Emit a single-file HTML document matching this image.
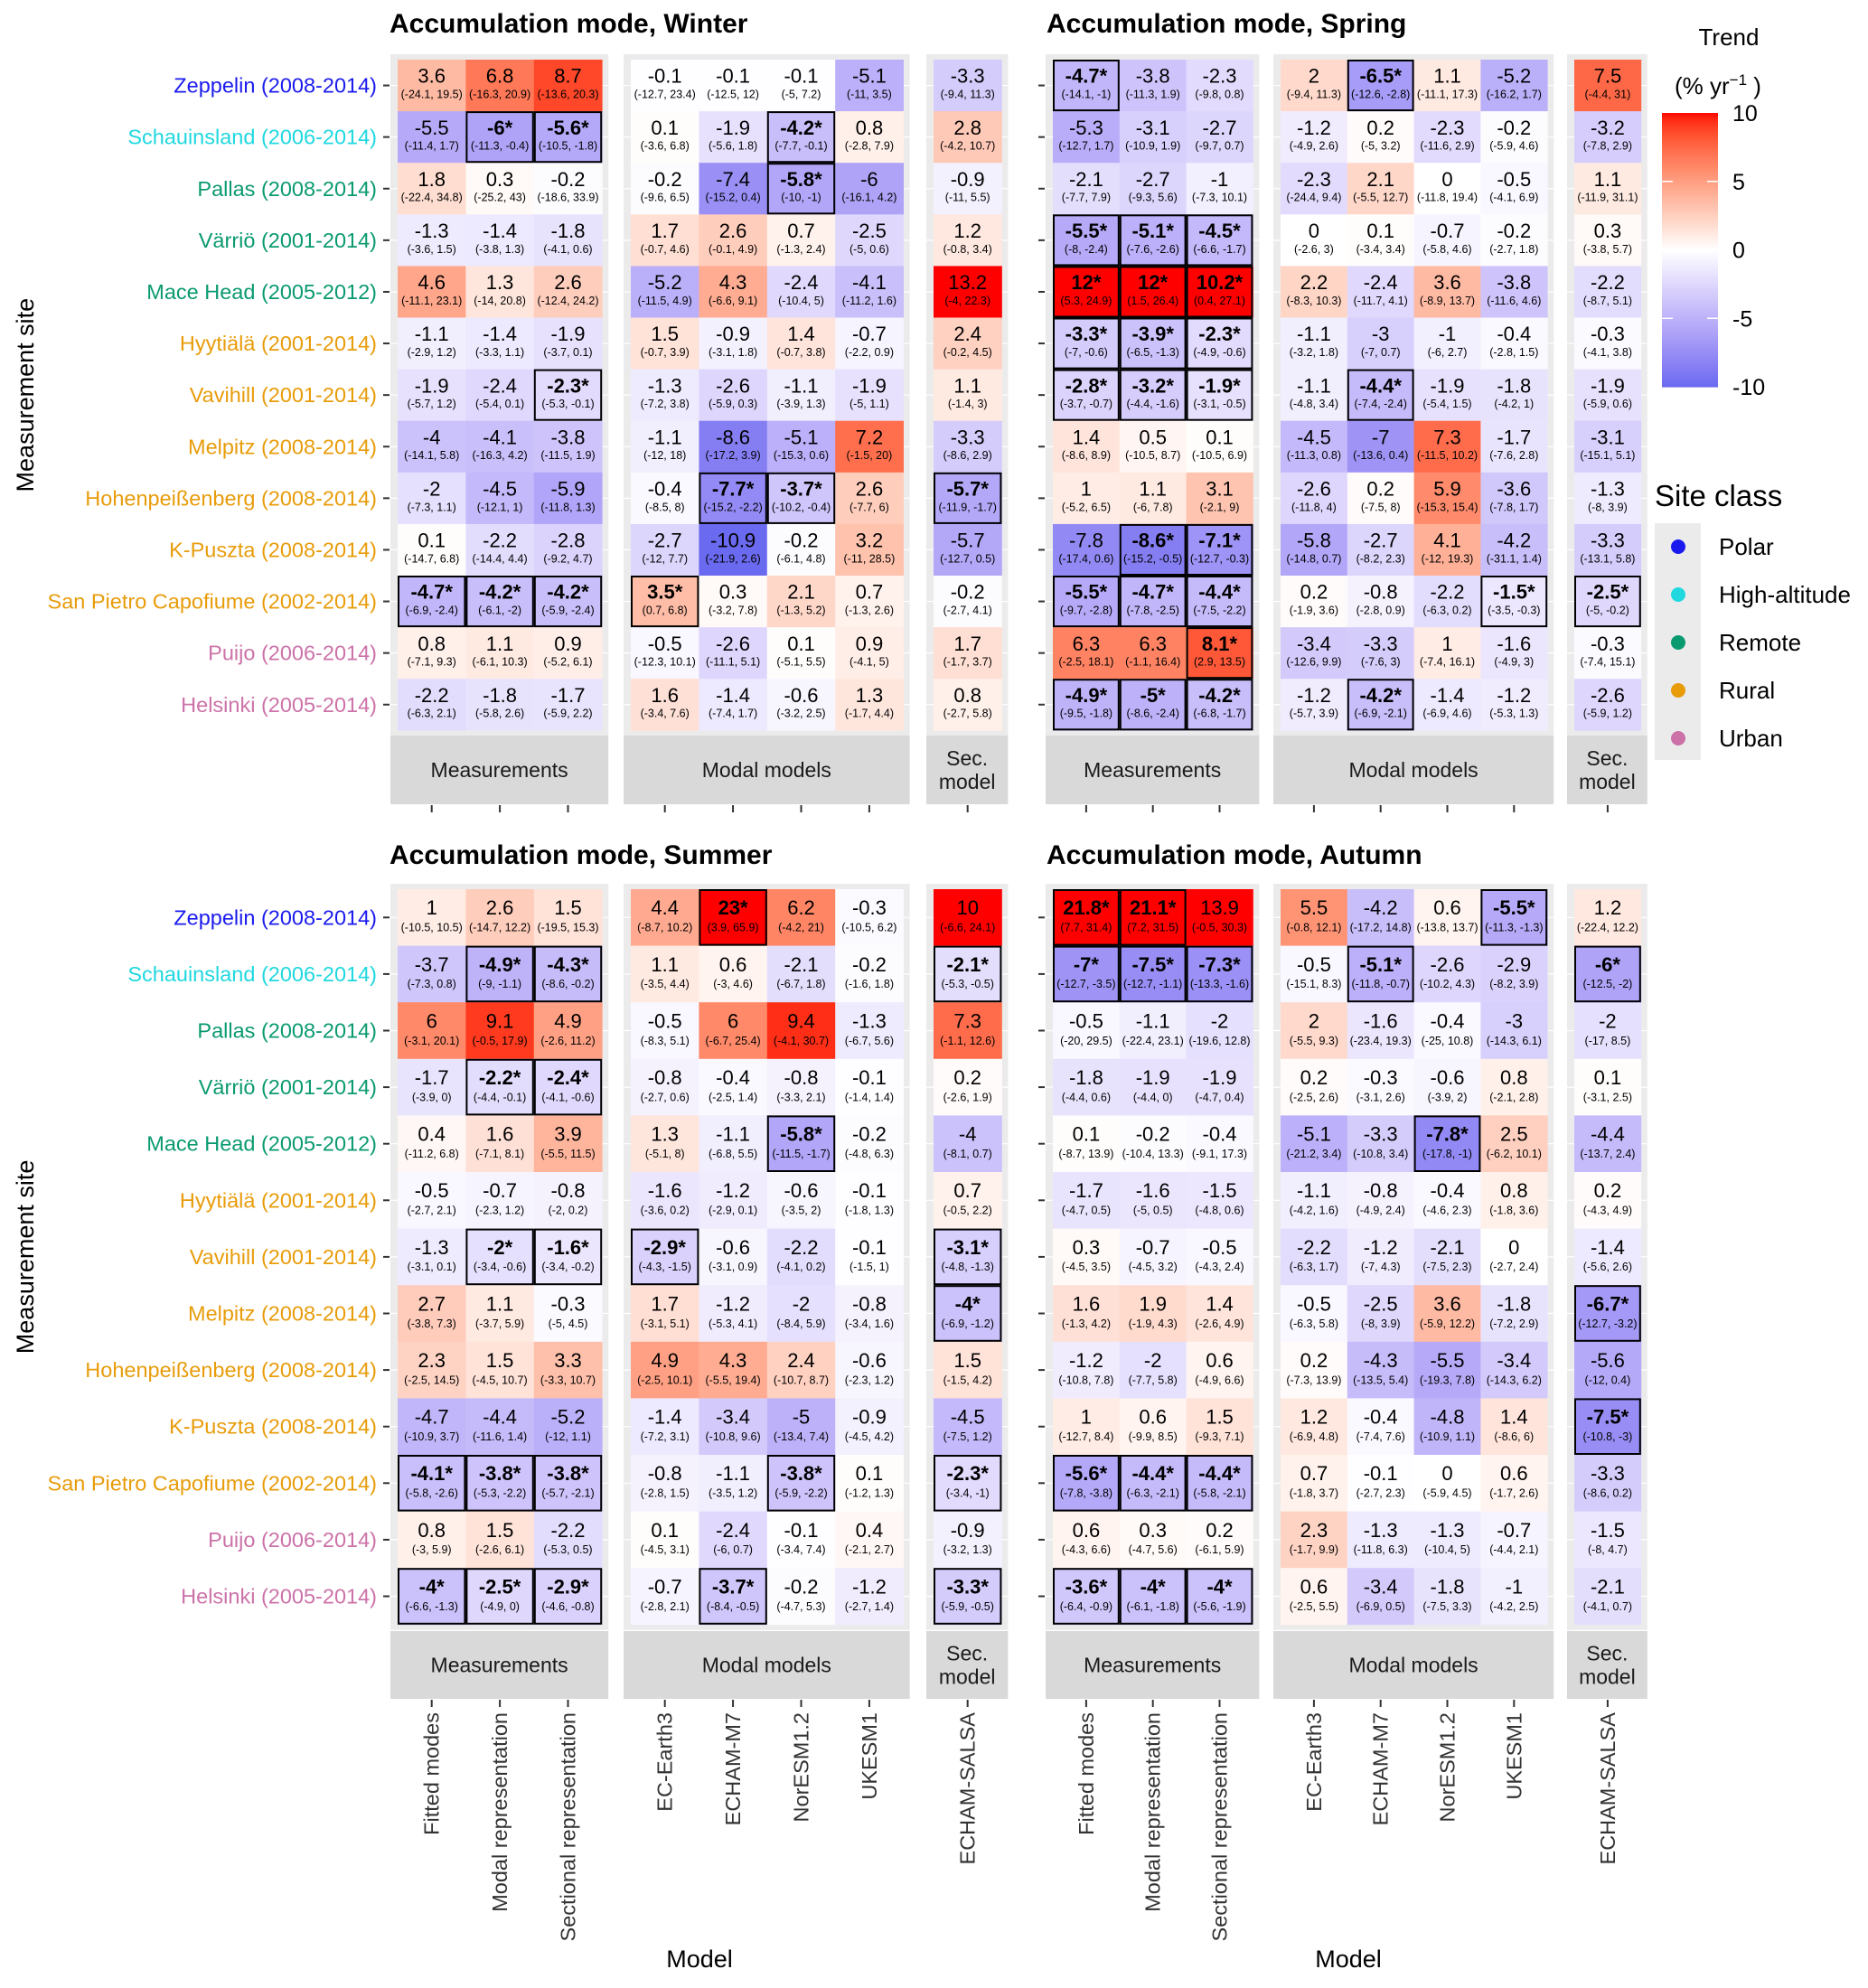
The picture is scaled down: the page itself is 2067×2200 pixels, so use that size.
<!DOCTYPE html>
<html><head><meta charset="utf-8">
<style>
html,body{margin:0;padding:0;background:#fff;}
svg text{font-family:"Liberation Sans",Arial,sans-serif;}
</style></head>
<body>
<svg id="chart" xmlns="http://www.w3.org/2000/svg" width="2067" height="2195" viewBox="0 0 2067 2195"></svg>
<script>
// ---------- data ----------
const sites = ["Zeppelin (2008-2014)","Schauinsland (2006-2014)","Pallas (2008-2014)","Värriö (2001-2014)","Mace Head (2005-2012)","Hyytiälä (2001-2014)","Vavihill (2001-2014)","Melpitz (2008-2014)","Hohenpeißenberg (2008-2014)","K-Puszta (2008-2014)","San Pietro Capofiume (2002-2014)","Puijo (2006-2014)","Helsinki (2005-2014)"];
const siteClass = ["Polar","High-altitude","Remote","Remote","Remote","Rural","Rural","Rural","Rural","Rural","Rural","Urban","Urban"];
const classNames = ["Polar","High-altitude","Remote","Rural","Urban"];
const classColors = ["#1a1aee","#1fd8e0","#0a9a70","#e89c0a","#cc72a8"];
const columns = ["Fitted modes","Modal representation","Sectional representation","EC-Earth3","ECHAM-M7","NorESM1.2","UKESM1","ECHAM-SALSA"];
const colorTicks = [10,5,0,-5,-10];

const winterValues = [
["3.6","6.8","8.7","-0.1","-0.1","-0.1","-5.1","-3.3"],
["-5.5","-6*","-5.6*","0.1","-1.9","-4.2*","0.8","2.8"],
["1.8","0.3","-0.2","-0.2","-7.4","-5.8*","-6","-0.9"],
["-1.3","-1.4","-1.8","1.7","2.6","0.7","-2.5","1.2"],
["4.6","1.3","2.6","-5.2","4.3","-2.4","-4.1","13.2"],
["-1.1","-1.4","-1.9","1.5","-0.9","1.4","-0.7","2.4"],
["-1.9","-2.4","-2.3*","-1.3","-2.6","-1.1","-1.9","1.1"],
["-4","-4.1","-3.8","-1.1","-8.6","-5.1","7.2","-3.3"],
["-2","-4.5","-5.9","-0.4","-7.7*","-3.7*","2.6","-5.7*"],
["0.1","-2.2","-2.8","-2.7","-10.9","-0.2","3.2","-5.7"],
["-4.7*","-4.2*","-4.2*","3.5*","0.3","2.1","0.7","-0.2"],
["0.8","1.1","0.9","-0.5","-2.6","0.1","0.9","1.7"],
["-2.2","-1.8","-1.7","1.6","-1.4","-0.6","1.3","0.8"]];
const winterCI = [
["-24.1, 19.5","-16.3, 20.9","-13.6, 20.3","-12.7, 23.4","-12.5, 12","-5, 7.2","-11, 3.5","-9.4, 11.3"],
["-11.4, 1.7","-11.3, -0.4","-10.5, -1.8","-3.6, 6.8","-5.6, 1.8","-7.7, -0.1","-2.8, 7.9","-4.2, 10.7"],
["-22.4, 34.8","-25.2, 43","-18.6, 33.9","-9.6, 6.5","-15.2, 0.4","-10, -1","-16.1, 4.2","-11, 5.5"],
["-3.6, 1.5","-3.8, 1.3","-4.1, 0.6","-0.7, 4.6","-0.1, 4.9","-1.3, 2.4","-5, 0.6","-0.8, 3.4"],
["-11.1, 23.1","-14, 20.8","-12.4, 24.2","-11.5, 4.9","-6.6, 9.1","-10.4, 5","-11.2, 1.6","-4, 22.3"],
["-2.9, 1.2","-3.3, 1.1","-3.7, 0.1","-0.7, 3.9","-3.1, 1.8","-0.7, 3.8","-2.2, 0.9","-0.2, 4.5"],
["-5.7, 1.2","-5.4, 0.1","-5.3, -0.1","-7.2, 3.8","-5.9, 0.3","-3.9, 1.3","-5, 1.1","-1.4, 3"],
["-14.1, 5.8","-16.3, 4.2","-11.5, 1.9","-12, 18","-17.2, 3.9","-15.3, 0.6","-1.5, 20","-8.6, 2.9"],
["-7.3, 1.1","-12.1, 1","-11.8, 1.3","-8.5, 8","-15.2, -2.2","-10.2, -0.4","-7.7, 6","-11.9, -1.7"],
["-14.7, 6.8","-14.4, 4.4","-9.2, 4.7","-12, 7.7","-21.9, 2.6","-6.1, 4.8","-11, 28.5","-12.7, 0.5"],
["-6.9, -2.4","-6.1, -2","-5.9, -2.4","0.7, 6.8","-3.2, 7.8","-1.3, 5.2","-1.3, 2.6","-2.7, 4.1"],
["-7.1, 9.3","-6.1, 10.3","-5.2, 6.1","-12.3, 10.1","-11.1, 5.1","-5.1, 5.5","-4.1, 5","-1.7, 3.7"],
["-6.3, 2.1","-5.8, 2.6","-5.9, 2.2","-3.4, 7.6","-7.4, 1.7","-3.2, 2.5","-1.7, 4.4","-2.7, 5.8"]];

const springValues = [
["-4.7*","-3.8","-2.3","2","-6.5*","1.1","-5.2","7.5"],
["-5.3","-3.1","-2.7","-1.2","0.2","-2.3","-0.2","-3.2"],
["-2.1","-2.7","-1","-2.3","2.1","0","-0.5","1.1"],
["-5.5*","-5.1*","-4.5*","0","0.1","-0.7","-0.2","0.3"],
["12*","12*","10.2*","2.2","-2.4","3.6","-3.8","-2.2"],
["-3.3*","-3.9*","-2.3*","-1.1","-3","-1","-0.4","-0.3"],
["-2.8*","-3.2*","-1.9*","-1.1","-4.4*","-1.9","-1.8","-1.9"],
["1.4","0.5","0.1","-4.5","-7","7.3","-1.7","-3.1"],
["1","1.1","3.1","-2.6","0.2","5.9","-3.6","-1.3"],
["-7.8","-8.6*","-7.1*","-5.8","-2.7","4.1","-4.2","-3.3"],
["-5.5*","-4.7*","-4.4*","0.2","-0.8","-2.2","-1.5*","-2.5*"],
["6.3","6.3","8.1*","-3.4","-3.3","1","-1.6","-0.3"],
["-4.9*","-5*","-4.2*","-1.2","-4.2*","-1.4","-1.2","-2.6"]];
const springCI = [
["-14.1, -1","-11.3, 1.9","-9.8, 0.8","-9.4, 11.3","-12.6, -2.8","-11.1, 17.3","-16.2, 1.7","-4.4, 31"],
["-12.7, 1.7","-10.9, 1.9","-9.7, 0.7","-4.9, 2.6","-5, 3.2","-11.6, 2.9","-5.9, 4.6","-7.8, 2.9"],
["-7.7, 7.9","-9.3, 5.6","-7.3, 10.1","-24.4, 9.4","-5.5, 12.7","-11.8, 19.4","-4.1, 6.9","-11.9, 31.1"],
["-8, -2.4","-7.6, -2.6","-6.6, -1.7","-2.6, 3","-3.4, 3.4","-5.8, 4.6","-2.7, 1.8","-3.8, 5.7"],
["5.3, 24.9","1.5, 26.4","0.4, 27.1","-8.3, 10.3","-11.7, 4.1","-8.9, 13.7","-11.6, 4.6","-8.7, 5.1"],
["-7, -0.6","-6.5, -1.3","-4.9, -0.6","-3.2, 1.8","-7, 0.7","-6, 2.7","-2.8, 1.5","-4.1, 3.8"],
["-3.7, -0.7","-4.4, -1.6","-3.1, -0.5","-4.8, 3.4","-7.4, -2.4","-5.4, 1.5","-4.2, 1","-5.9, 0.6"],
["-8.6, 8.9","-10.5, 8.7","-10.5, 6.9","-11.3, 0.8","-13.6, 0.4","-11.5, 10.2","-7.6, 2.8","-15.1, 5.1"],
["-5.2, 6.5","-6, 7.8","-2.1, 9","-11.8, 4","-7.5, 8","-15.3, 15.4","-7.8, 1.7","-8, 3.9"],
["-17.4, 0.6","-15.2, -0.5","-12.7, -0.3","-14.8, 0.7","-8.2, 2.3","-12, 19.3","-31.1, 1.4","-13.1, 5.8"],
["-9.7, -2.8","-7.8, -2.5","-7.5, -2.2","-1.9, 3.6","-2.8, 0.9","-6.3, 0.2","-3.5, -0.3","-5, -0.2"],
["-2.5, 18.1","-1.1, 16.4","2.9, 13.5","-12.6, 9.9","-7.6, 3","-7.4, 16.1","-4.9, 3","-7.4, 15.1"],
["-9.5, -1.8","-8.6, -2.4","-6.8, -1.7","-5.7, 3.9","-6.9, -2.1","-6.9, 4.6","-5.3, 1.3","-5.9, 1.2"]];

const summerValues = [
["1","2.6","1.5","4.4","23*","6.2","-0.3","10"],
["-3.7","-4.9*","-4.3*","1.1","0.6","-2.1","-0.2","-2.1*"],
["6","9.1","4.9","-0.5","6","9.4","-1.3","7.3"],
["-1.7","-2.2*","-2.4*","-0.8","-0.4","-0.8","-0.1","0.2"],
["0.4","1.6","3.9","1.3","-1.1","-5.8*","-0.2","-4"],
["-0.5","-0.7","-0.8","-1.6","-1.2","-0.6","-0.1","0.7"],
["-1.3","-2*","-1.6*","-2.9*","-0.6","-2.2","-0.1","-3.1*"],
["2.7","1.1","-0.3","1.7","-1.2","-2","-0.8","-4*"],
["2.3","1.5","3.3","4.9","4.3","2.4","-0.6","1.5"],
["-4.7","-4.4","-5.2","-1.4","-3.4","-5","-0.9","-4.5"],
["-4.1*","-3.8*","-3.8*","-0.8","-1.1","-3.8*","0.1","-2.3*"],
["0.8","1.5","-2.2","0.1","-2.4","-0.1","0.4","-0.9"],
["-4*","-2.5*","-2.9*","-0.7","-3.7*","-0.2","-1.2","-3.3*"]];
const summerCI = [
["-10.5, 10.5","-14.7, 12.2","-19.5, 15.3","-8.7, 10.2","3.9, 65.9","-4.2, 21","-10.5, 6.2","-6.6, 24.1"],
["-7.3, 0.8","-9, -1.1","-8.6, -0.2","-3.5, 4.4","-3, 4.6","-6.7, 1.8","-1.6, 1.8","-5.3, -0.5"],
["-3.1, 20.1","-0.5, 17.9","-2.6, 11.2","-8.3, 5.1","-6.7, 25.4","-4.1, 30.7","-6.7, 5.6","-1.1, 12.6"],
["-3.9, 0","-4.4, -0.1","-4.1, -0.6","-2.7, 0.6","-2.5, 1.4","-3.3, 2.1","-1.4, 1.4","-2.6, 1.9"],
["-11.2, 6.8","-7.1, 8.1","-5.5, 11.5","-5.1, 8","-6.8, 5.5","-11.5, -1.7","-4.8, 6.3","-8.1, 0.7"],
["-2.7, 2.1","-2.3, 1.2","-2, 0.2","-3.6, 0.2","-2.9, 0.1","-3.5, 2","-1.8, 1.3","-0.5, 2.2"],
["-3.1, 0.1","-3.4, -0.6","-3.4, -0.2","-4.3, -1.5","-3.1, 0.9","-4.1, 0.2","-1.5, 1","-4.8, -1.3"],
["-3.8, 7.3","-3.7, 5.9","-5, 4.5","-3.1, 5.1","-5.3, 4.1","-8.4, 5.9","-3.4, 1.6","-6.9, -1.2"],
["-2.5, 14.5","-4.5, 10.7","-3.3, 10.7","-2.5, 10.1","-5.5, 19.4","-10.7, 8.7","-2.3, 1.2","-1.5, 4.2"],
["-10.9, 3.7","-11.6, 1.4","-12, 1.1","-7.2, 3.1","-10.8, 9.6","-13.4, 7.4","-4.5, 4.2","-7.5, 1.2"],
["-5.8, -2.6","-5.3, -2.2","-5.7, -2.1","-2.8, 1.5","-3.5, 1.2","-5.9, -2.2","-1.2, 1.3","-3.4, -1"],
["-3, 5.9","-2.6, 6.1","-5.3, 0.5","-4.5, 3.1","-6, 0.7","-3.4, 7.4","-2.1, 2.7","-3.2, 1.3"],
["-6.6, -1.3","-4.9, 0","-4.6, -0.8","-2.8, 2.1","-8.4, -0.5","-4.7, 5.3","-2.7, 1.4","-5.9, -0.5"]];

const autumnValues = [
["21.8*","21.1*","13.9","5.5","-4.2","0.6","-5.5*","1.2"],
["-7*","-7.5*","-7.3*","-0.5","-5.1*","-2.6","-2.9","-6*"],
["-0.5","-1.1","-2","2","-1.6","-0.4","-3","-2"],
["-1.8","-1.9","-1.9","0.2","-0.3","-0.6","0.8","0.1"],
["0.1","-0.2","-0.4","-5.1","-3.3","-7.8*","2.5","-4.4"],
["-1.7","-1.6","-1.5","-1.1","-0.8","-0.4","0.8","0.2"],
["0.3","-0.7","-0.5","-2.2","-1.2","-2.1","0","-1.4"],
["1.6","1.9","1.4","-0.5","-2.5","3.6","-1.8","-6.7*"],
["-1.2","-2","0.6","0.2","-4.3","-5.5","-3.4","-5.6"],
["1","0.6","1.5","1.2","-0.4","-4.8","1.4","-7.5*"],
["-5.6*","-4.4*","-4.4*","0.7","-0.1","0","0.6","-3.3"],
["0.6","0.3","0.2","2.3","-1.3","-1.3","-0.7","-1.5"],
["-3.6*","-4*","-4*","0.6","-3.4","-1.8","-1","-2.1"]];
const autumnCI = [
["7.7, 31.4","7.2, 31.5","-0.5, 30.3","-0.8, 12.1","-17.2, 14.8","-13.8, 13.7","-11.3, -1.3","-22.4, 12.2"],
["-12.7, -3.5","-12.7, -1.1","-13.3, -1.6","-15.1, 8.3","-11.8, -0.7","-10.2, 4.3","-8.2, 3.9","-12.5, -2"],
["-20, 29.5","-22.4, 23.1","-19.6, 12.8","-5.5, 9.3","-23.4, 19.3","-25, 10.8","-14.3, 6.1","-17, 8.5"],
["-4.4, 0.6","-4.4, 0","-4.7, 0.4","-2.5, 2.6","-3.1, 2.6","-3.9, 2","-2.1, 2.8","-3.1, 2.5"],
["-8.7, 13.9","-10.4, 13.3","-9.1, 17.3","-21.2, 3.4","-10.8, 3.4","-17.8, -1","-6.2, 10.1","-13.7, 2.4"],
["-4.7, 0.5","-5, 0.5","-4.8, 0.6","-4.2, 1.6","-4.9, 2.4","-4.6, 2.3","-1.8, 3.6","-4.3, 4.9"],
["-4.5, 3.5","-4.5, 3.2","-4.3, 2.4","-6.3, 1.7","-7, 4.3","-7.5, 2.3","-2.7, 2.4","-5.6, 2.6"],
["-1.3, 4.2","-1.9, 4.3","-2.6, 4.9","-6.3, 5.8","-8, 3.9","-5.9, 12.2","-7.2, 2.9","-12.7, -3.2"],
["-10.8, 7.8","-7.7, 5.8","-4.9, 6.6","-7.3, 13.9","-13.5, 5.4","-19.3, 7.8","-14.3, 6.2","-12, 0.4"],
["-12.7, 8.4","-9.9, 8.5","-9.3, 7.1","-6.9, 4.8","-7.4, 7.6","-10.9, 1.1","-8.6, 6","-10.8, -3"],
["-7.8, -3.8","-6.3, -2.1","-5.8, -2.1","-1.8, 3.7","-2.7, 2.3","-5.9, 4.5","-1.7, 2.6","-8.6, 0.2"],
["-4.3, 6.6","-4.7, 5.6","-6.1, 5.9","-1.7, 9.9","-11.8, 6.3","-10.4, 5","-4.4, 2.1","-8, 4.7"],
["-6.4, -0.9","-6.1, -1.8","-5.6, -1.9","-2.5, 5.5","-6.9, 0.5","-7.5, 3.3","-4.2, 2.5","-4.1, 0.7"]];

// ---------- helpers ----------
const NS = "http://www.w3.org/2000/svg";
const svg = document.getElementById('chart');
function mk(tag, attrs, parent){
  const e = document.createElementNS(NS, tag);
  for (const k in attrs) e.setAttribute(k, attrs[k]);
  (parent||svg).appendChild(e);
  return e;
}
function txt(str, attrs, parent){ const t = mk('text', attrs, parent); t.textContent = str; return t; }

function srgb2lin(c){ c/=255; return c<=0.04045? c/12.92 : Math.pow((c+0.055)/1.055,2.4); }
function lin2srgb(c){ c = c<=0.0031308? 12.92*c : 1.055*Math.pow(c,1/2.4)-0.055; return Math.max(0,Math.min(255,Math.round(c*255))); }
function toLab(hex){
  const r=srgb2lin(parseInt(hex.substr(1,2),16)), g=srgb2lin(parseInt(hex.substr(3,2),16)), b=srgb2lin(parseInt(hex.substr(5,2),16));
  let X=(0.4124*r+0.3576*g+0.1805*b)/0.95047, Y=0.2126*r+0.7152*g+0.0722*b, Z=(0.0193*r+0.1192*g+0.9505*b)/1.08883;
  const f=t=> t>0.008856? Math.cbrt(t) : 7.787*t+16/116;
  const fx=f(X), fy=f(Y), fz=f(Z);
  return [116*fy-16, 500*(fx-fy), 200*(fy-fz)];
}
function fromLab(L,a,b){
  const fy=(L+16)/116, fx=fy+a/500, fz=fy-b/200;
  const fi=t=> t*t*t>0.008856? t*t*t : (t-16/116)/7.787;
  const X=fi(fx)*0.95047, Y=fi(fy), Z=fi(fz)*1.08883;
  const r= 3.2406*X-1.5372*Y-0.4986*Z, g=-0.9689*X+1.8758*Y+0.0415*Z, bb=0.0557*X-0.2040*Y+1.0570*Z;
  return 'rgb('+lin2srgb(r)+','+lin2srgb(g)+','+lin2srgb(bb)+')';
}
const LW = toLab('#ffffff'), LR = toLab('#ff0000'), LB = toLab('#6a6af0');
function fillColor(v){
  let t = Math.max(-1, Math.min(1, v/10));
  const end = t>=0? LR : LB; t=Math.abs(t);
  return fromLab(LW[0]+(end[0]-LW[0])*t, LW[1]+(end[1]-LW[1])*t, LW[2]+(end[2]-LW[2])*t);
}

// ---------- layout ----------
const sides = {
  left:  {groups:[440,698,1033], w:75.4, title:431, yTick:424},
  right: {groups:[1165,1417,1742], w:73.8, title:1158, yTick:1149}
};
const groupCols = [[0,1,2],[3,4,5,6],[7]];
const groupLabels = [["Measurements"],["Modal models"],["Sec.","model"]];
const rows = {
  top:    {y0:66,  h:57.1, titleY:36,  strip:[814,890]},
  bottom: {y0:984, h:62.6, titleY:956, strip:[1805,1880]}
};
const panels = [
  {name:"winter", title:"Accumulation mode, Winter", side:"left", row:"top", vals:winterValues, ci:winterCI},
  {name:"spring", title:"Accumulation mode, Spring", side:"right", row:"top", vals:springValues, ci:springCI},
  {name:"summer", title:"Accumulation mode, Summer", side:"left", row:"bottom", vals:summerValues, ci:summerCI},
  {name:"autumn", title:"Accumulation mode, Autumn", side:"right", row:"bottom", vals:autumnValues, ci:autumnCI}
];
function colX(side, c){
  const S = sides[side];
  for (let g=0; g<3; g++){ const i = groupCols[g].indexOf(c); if (i>=0) return S.groups[g] + i*S.w; }
}

panels.forEach(P=>{
  const S = sides[P.side], R = rows[P.row];
  const G = mk('g', {});
  
  
  const yEnd = R.y0 + R.h*sites.length;
  const t = txt(P.title, {x:S.title, y:R.titleY, 'font-size':30, 'font-weight':'bold', fill:'#000'}, G);
  
  
  for (let g=0; g<3; g++){
    const x0 = S.groups[g] - 8, x1 = S.groups[g] + groupCols[g].length*S.w + 7;
    const bg = mk('rect', {x:x0, y:R.y0-6, width:x1-x0, height:yEnd-R.y0+12, fill:'#ebebeb'}, G);
    
    
    for (let r=0;r<sites.length;r++){
      const yc = R.y0 + R.h*(r+0.5);
      mk('line',{x1:x0,x2:x1,y1:yc,y2:yc,stroke:'#fff','stroke-width':1.2},G);
    }
    const st = mk('rect', {x:x0, y:R.strip[0], width:x1-x0, height:R.strip[1]-R.strip[0], fill:'#d9d9d9'}, G);
    
    
    const cx = (x0+x1)/2, cy = (R.strip[0]+R.strip[1])/2;
    const lines = groupLabels[g];
    lines.forEach((ln,i)=>{
      const tt = txt(ln, {x:cx, y:cy+8+(i-(lines.length-1)/2)*26, 'font-size':23, 'text-anchor':'middle', fill:'#1a1a1a'}, G);
      
      
    });
    groupCols[g].forEach(c=>{
      const xc = colX(P.side,c) + S.w/2;
      mk('line',{x1:xc,x2:xc,y1:R.strip[1]+1,y2:R.strip[1]+9,stroke:'#333','stroke-width':2},G);
    });
  }
  const borders = [];
  for (let r=0; r<sites.length; r++){
    for (let c=0; c<columns.length; c++){
      const v = P.vals[r][c];
      const sig = v.indexOf('*')>=0;
      const x = colX(P.side,c), y = R.y0 + r*R.h;
      const rect = mk('rect', {x:x, y:y, width:S.w+0.4, height:R.h+0.4, fill:fillColor(parseFloat(v))}, G);
      
      
      if (sig) borders.push([x,y]);
      const tv = txt(v, {x:x+S.w/2, y:y+R.h*0.45, 'font-size':22, 'text-anchor':'middle', 'font-weight':sig?'bold':'normal', fill:'#000'}, G);
      
      
      const tc = txt('('+P.ci[r][c]+')', {x:x+S.w/2, y:y+R.h*0.745, 'font-size':12.5, 'text-anchor':'middle', fill:'#000'}, G);
      
      
    }
  }
  borders.forEach(([x,y])=>{
    const b = mk('rect',{x:x+1, y:y+1, width:S.w-2, height:R.h-2, fill:'none', stroke:'#000','stroke-width':2}, G);
    
    
  });
  for (let r=0; r<sites.length; r++){
    const yc = R.y0 + R.h*(r+0.5);
    mk('line',{x1:S.yTick,x2:S.yTick+7,y1:yc,y2:yc,stroke:'#333','stroke-width':2},G);
    if (P.side==='left'){
      const col = classColors[classNames.indexOf(siteClass[r])];
      const lb = txt(sites[r], {x:417, y:yc+8, 'font-size':23.5, 'text-anchor':'end', fill:col}, G);
      
      
    }
  }
  if (P.side==='left'){
    const yc = (R.y0+yEnd)/2;
    const yt = txt('Measurement site', {x:37, y:yc, 'font-size':27, 'text-anchor':'middle', transform:'rotate(-90 37 '+yc+')', fill:'#000'}, G);
    
    
  }
  if (P.row==='bottom'){
    for (let c=0;c<columns.length;c++){
      const xc = colX(P.side,c)+S.w/2 + 8;
      const xl = txt(columns[c], {x:xc, y:1895, 'font-size':23.5, 'text-anchor':'end', transform:'rotate(-90 '+xc+' 1895)', fill:'#333'}, G);
      
      
    }
    const mx = P.side==='left'? 774 : 1492;
    const xt = txt('Model', {x:mx, y:2177, 'font-size':27, 'text-anchor':'middle', fill:'#000'}, G);
    
    
  }
});

// ---------- colour legend ----------
const LG = mk('g',{});


const lt = txt('Trend', {x:1913, y:50, 'font-size':26, 'text-anchor':'middle', fill:'#000'}, LG);


const lu = mk('text', {x:1853, y:104, 'font-size':26, fill:'#000'}, LG);
lu.innerHTML = '(% yr<tspan dy="-10" font-size="17">−1</tspan><tspan dy="10"> )</tspan>';


const cbTop=125, cbBot=428, cbX=1839, cbW=62;
const cbScale = v => cbTop + (10 - v)/20*(cbBot-cbTop);
for (let i=0;i<120;i++){
  const v0 = 10 - i*20/120, v1 = 10-(i+1)*20/120;
  mk('rect',{x:cbX, y:cbScale(v0), width:cbW, height:cbScale(v1)-cbScale(v0)+0.6, fill:fillColor((v0+v1)/2)}, LG);
}
colorTicks.forEach(v=>{
  const y = cbScale(v);
  if (Math.abs(v)<10){
    mk('line',{x1:cbX,x2:cbX+12,y1:y,y2:y,stroke:'#fff','stroke-width':1.5},LG);
    mk('line',{x1:cbX+cbW-12,x2:cbX+cbW,y1:y,y2:y,stroke:'#fff','stroke-width':1.5},LG);
  }
  const tl = txt(String(v), {x:1917, y:y+9, 'font-size':25, fill:'#000'}, LG);
  
  
});

// ---------- site class legend ----------
const SG = mk('g',{});


const sct = txt('Site class', {x:1831, y:560, 'font-size':33, fill:'#000'}, SG);


mk('rect',{x:1831,y:579,width:51,height:262,fill:'#ebebeb'},SG);
classNames.forEach((n,i)=>{
  const y = 605 + i*53;
  const p = mk('circle',{cx:1857, cy:y, r:8, fill:classColors[i]}, SG);
  
  
  const l = txt(n, {x:1902, y:y+9, 'font-size':26, fill:'#000'}, SG);
  
  
});
</script>
</body></html>
